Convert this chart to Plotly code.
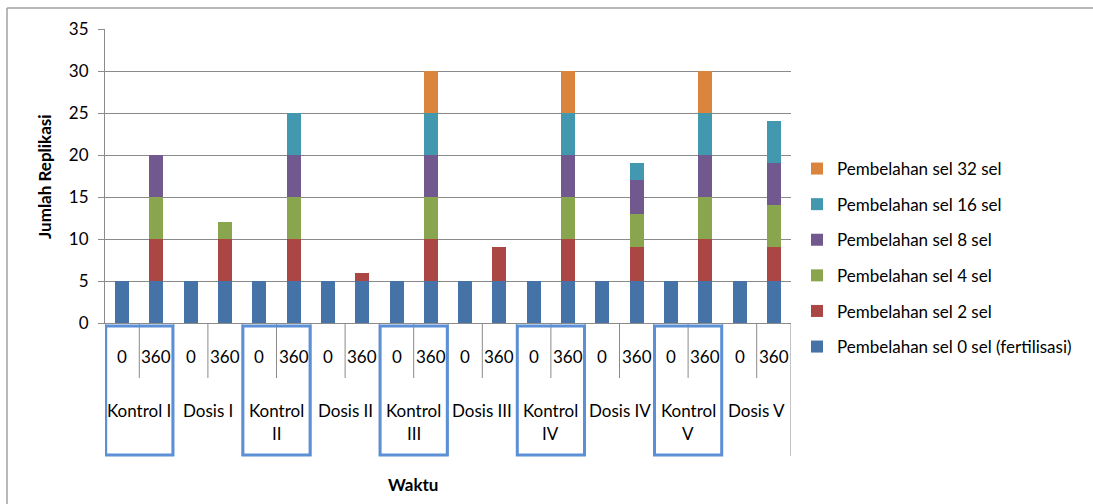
import plotly.graph_objects as go

groups = ["Kontrol I", "Dosis I", "Kontrol II", "Dosis II", "Kontrol III",
          "Dosis III", "Kontrol IV", "Dosis IV", "Kontrol V", "Dosis V"]
group_lines = [["Kontrol I"], ["Dosis I"], ["Kontrol", "II"], ["Dosis II"], ["Kontrol", "III"],
               ["Dosis III"], ["Kontrol", "IV"], ["Dosis IV"], ["Kontrol", "V"], ["Dosis V"]]
times = ["0", "360"]

series_names = ["Pembelahan sel 0 sel (fertilisasi)", "Pembelahan sel 2 sel",
                "Pembelahan sel 4 sel", "Pembelahan sel 8 sel",
                "Pembelahan sel 16 sel", "Pembelahan sel 32 sel"]
colors = ["#4572A7", "#AA4643", "#89A54E", "#71588F", "#4198AF", "#DB843D"]

# values per bar: order = (group, time) for each group, times 0 then 360
sel0  = [5, 5, 5, 5, 5, 5, 5, 5, 5, 5, 5, 5, 5, 5, 5, 5, 5, 5, 5, 5]
sel2  = [0, 5, 0, 5, 0, 5, 0, 1, 0, 5, 0, 4, 0, 5, 0, 4, 0, 5, 0, 4]
sel4  = [0, 5, 0, 2, 0, 5, 0, 0, 0, 5, 0, 0, 0, 5, 0, 4, 0, 5, 0, 5]
sel8  = [0, 5, 0, 0, 0, 5, 0, 0, 0, 5, 0, 0, 0, 5, 0, 4, 0, 5, 0, 5]
sel16 = [0, 0, 0, 0, 0, 5, 0, 0, 0, 5, 0, 0, 0, 5, 0, 2, 0, 5, 0, 5]
sel32 = [0, 0, 0, 0, 0, 0, 0, 0, 0, 5, 0, 0, 0, 5, 0, 0, 0, 5, 0, 0]
all_series = [sel0, sel2, sel4, sel8, sel16, sel32]

categories = [f"{g} | {t}" for g in groups for t in times]
time_labels = [t for g in groups for t in times]

FONT = "Lato"
FS = 17
GRID = "#8A8A8A"

# plot area geometry (px)
W, H = 1093, 504
L, R, T, B = 105, 791, 29, 323
pw, ph = R - L, B - T

def py(y):  # pixel y -> paper
    return (B - y) / ph

def px(x):
    return (x - L) / pw

fig = go.Figure()
nser = len(series_names)
for k, (name, vals, col) in enumerate(zip(series_names, all_series, colors)):
    fig.add_trace(go.Bar(
        x=categories, y=vals, name=name, marker=dict(color=col, line=dict(width=0)),
        legendgroup=name, legendrank=nser - k,
    ))

shapes = []
annotations = []

# category separators
n = len(categories)
for k in range(n + 1):
    xpos = k - 0.5
    long = (k % 2 == 0)
    shapes.append(dict(type="line", xref="x", yref="paper", x0=xpos, x1=xpos,
                       y0=0, y1=py(456 if long else 378),
                       line=dict(color=GRID, width=1)))

# time labels
for i, t in enumerate(time_labels):
    annotations.append(dict(x=i, y=py(356), xref="x", yref="paper", text=t,
                            showarrow=False, font=dict(family=FONT, size=FS, color="#000"),
                            xanchor="center", yanchor="middle"))

# group labels
for gi, lines in enumerate(group_lines):
    cx = 2 * gi + 0.5
    ys = [410] if len(lines) == 1 else [410, 434]
    for ln, yy in zip(lines, ys):
        annotations.append(dict(x=cx, y=py(yy), xref="x", yref="paper", text=ln,
                                showarrow=False, font=dict(family=FONT, size=FS, color="#000"),
                                xanchor="center", yanchor="middle"))

# highlight boxes around Kontrol groups
for gi, g in enumerate(groups):
    if g.startswith("Kontrol"):
        shapes.append(dict(type="rect", xref="x", yref="paper",
                           x0=2 * gi - 0.5 + 0.02, x1=2 * gi + 1.5 - 0.02,
                           y0=py(455), y1=py(326),
                           line=dict(color="#5B8FD6", width=3), fillcolor="rgba(0,0,0,0)"))

# outer chart border (top and left)
shapes.append(dict(type="line", xref="paper", yref="paper", x0=px(7), x1=px(W + 5),
                   y0=py(8), y1=py(8), line=dict(color="#A0A0A0", width=1.5)))
shapes.append(dict(type="line", xref="paper", yref="paper", x0=px(7), x1=px(7),
                   y0=py(8), y1=py(H + 5), line=dict(color="#A0A0A0", width=1.5)))

# axis titles
annotations.append(dict(x=px(44), y=py(177), xref="paper", yref="paper",
                        text="<b>Jumlah Replikasi</b>", textangle=-90, showarrow=False,
                        xanchor="center", yanchor="middle",
                        font=dict(family=FONT, size=17, color="#000")))
annotations.append(dict(x=px(413), y=py(484), xref="paper", yref="paper",
                        text="<b>Waktu</b>", showarrow=False,
                        xanchor="center", yanchor="middle",
                        font=dict(family=FONT, size=17, color="#000")))

fig.update_layout(
    width=W, height=H,
    margin=dict(l=L, r=W - R, t=T, b=H - B, pad=0),
    barmode="stack", bargap=0.59,
    plot_bgcolor="white", paper_bgcolor="white",
    font=dict(family=FONT, size=FS, color="#000"),
    showlegend=True,
    legend=dict(x=px(797), y=py(151), xanchor="left", yanchor="top",
                traceorder="grouped", tracegroupgap=10.5,
                font=dict(family=FONT, size=FS, color="#000"),
                itemwidth=30, bgcolor="rgba(0,0,0,0)"),
    shapes=shapes, annotations=annotations,
)
fig.update_xaxes(type="category", categoryorder="array", categoryarray=categories,
                 showticklabels=False, showgrid=False, zeroline=False,
                 showline=True, linecolor=GRID, linewidth=1, ticks="",
                 range=[-0.5, n - 0.5])
fig.update_yaxes(range=[0, 35], dtick=5, tick0=0, showgrid=True, gridcolor=GRID, gridwidth=1,
                 showline=True, linecolor=GRID, linewidth=1, ticks="outside", ticklen=6,
                 tickcolor=GRID, zeroline=False, tickfont=dict(family=FONT, size=FS, color="#000"),
                 ticklabelstandoff=6)

fig.write_html("out.html")
